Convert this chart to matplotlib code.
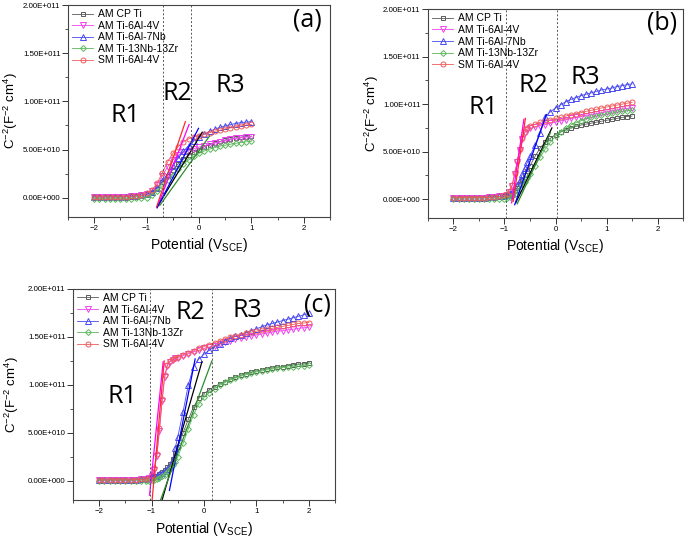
import numpy as np
import matplotlib.pyplot as plt
from matplotlib.ticker import FuncFormatter, MultipleLocator

plt.rcParams['font.family'] = ['Liberation Sans', 'DejaVu Sans']
plt.rcParams['mathtext.default'] = 'regular'

# ---- legend / styles ----
names = ['AM CP Ti', 'AM Ti-6Al-4V', 'AM Ti-6Al-7Nb', 'AM Ti-13Nb-13Zr', 'SM Ti-6Al-4V']

# ---- panel (a) : C^-2 in units of 1e10 ----
xa = [-2.0, -1.9, -1.8, -1.7, -1.6, -1.5, -1.4, -1.3, -1.2, -1.1, -1.0, -0.9, -0.8, -0.7, -0.6,
      -0.5, -0.4, -0.3, -0.2, -0.1, 0.0, 0.1, 0.2, 0.3, 0.4, 0.5, 0.6, 0.7, 0.8, 0.9, 1.0]
a_cp = [0.1, 0.1, 0.1, 0.1, 0.1, 0.1, 0.12, 0.15, 0.2, 0.25,
        0.35, 0.6, 1.0, 1.6, 2.3, 2.9, 3.5, 4.0, 4.4, 4.7, 5.0, 5.3, 5.5, 5.7, 5.85, 6.0, 6.1, 6.2, 6.3, 6.35, 6.4]
a_64 = [0.1, 0.1, 0.1, 0.1, 0.1, 0.1, 0.12, 0.15, 0.2, 0.25,
        0.4, 0.7, 1.3, 2.3, 3.2, 3.9, 4.4, 4.7, 4.9, 5.1, 5.25, 5.4, 5.55, 5.7, 5.8, 5.95, 6.05, 6.15, 6.25, 6.3, 6.35]
a_67 = [0.1, 0.1, 0.1, 0.1, 0.1, 0.1, 0.12, 0.15, 0.2, 0.25,
        0.35, 0.6, 1.0, 1.7, 2.5, 3.3, 4.1, 4.8, 5.4, 5.9, 6.3, 6.6, 6.9, 7.1, 7.3, 7.45, 7.6, 7.7, 7.8, 7.85, 7.9]
a_1313 = [-0.1, -0.1, -0.1, -0.1, -0.1, -0.1, -0.1, -0.1, -0.05, -0.05,
          0.0, 0.3, 0.7, 1.2, 1.8, 2.4, 3.0, 3.5, 3.9, 4.3, 4.6, 4.85, 5.05, 5.2, 5.35, 5.45, 5.55, 5.65, 5.72, 5.8, 5.85]
a_sm = [0.1, 0.1, 0.1, 0.1, 0.1, 0.1, 0.12, 0.15, 0.2, 0.25,
        0.45, 0.8, 1.5, 2.6, 3.7, 4.6, 5.3, 5.8, 6.1, 6.3, 6.45, 6.6, 6.75, 6.9, 7.0, 7.15, 7.25, 7.35, 7.45, 7.55, 7.6]
# linear fits in R2: (x0, x1), (y0, y1)
a_fits = [((-0.78, 0.06), (-0.8, 6.8)),
          ((-0.80, -0.19), (-1.0, 7.6)),
          ((-0.80, -0.01), (-1.05, 7.2)),
          ((-0.75, 0.20), (-0.8, 6.4)),
          ((-0.81, -0.26), (-0.95, 7.9))]
a_bounds = [-0.68, -0.15]

# ---- panel (b) ----
xb = [-2.0, -1.9, -1.8, -1.7, -1.6, -1.5, -1.4, -1.3, -1.2, -1.1, -1.0,
      -0.95, -0.9, -0.85, -0.8, -0.75, -0.7, -0.65, -0.6, -0.55, -0.5,
      -0.4, -0.3, -0.2, -0.1, 0.0, 0.1, 0.2, 0.3, 0.4, 0.5, 0.6, 0.7, 0.8, 0.9, 1.0, 1.1, 1.2, 1.3, 1.4, 1.5]
b_cp = [0.15, 0.15, 0.15, 0.15, 0.15, 0.15, 0.15, 0.18, 0.22, 0.28, 0.35,
        0.4, 0.5, 0.65, 0.9, 1.2, 1.6, 2.0, 2.5, 3.0, 3.5,
        4.5, 5.4, 6.0, 6.4, 6.8, 7.05, 7.3, 7.5, 7.65, 7.8, 7.9, 8.0, 8.1, 8.2, 8.3, 8.4, 8.5, 8.6, 8.7, 8.75]
b_64 = [0.15, 0.15, 0.15, 0.15, 0.15, 0.15, 0.15, 0.18, 0.22, 0.28, 0.35,
        0.45, 0.7, 1.4, 2.6, 3.9, 5.2, 6.3, 7.0, 7.3, 7.45,
        7.6, 7.75, 7.85, 8.0, 8.1, 8.25, 8.35, 8.5, 8.6, 8.7, 8.8, 8.9, 9.0, 9.1, 9.2, 9.3, 9.4, 9.5, 9.55, 9.6]
b_67 = [0.15, 0.15, 0.15, 0.15, 0.15, 0.15, 0.15, 0.18, 0.22, 0.28, 0.35,
        0.4, 0.5, 0.7, 1.0, 1.5, 2.0, 2.6, 3.3, 3.9, 4.5,
        5.7, 7.0, 8.7, 9.2, 9.6, 9.95, 10.25, 10.5, 10.7, 10.9, 11.05, 11.2, 11.35, 11.5, 11.6, 11.7, 11.85, 11.95, 12.05, 12.15]
b_1313 = [0.0, 0.0, 0.0, 0.0, 0.0, 0.0, 0.0, 0.0, 0.0, 0.02, 0.05,
          0.1, 0.2, 0.35, 0.55, 0.8, 1.1, 1.45, 1.8, 2.2, 2.6,
          3.5, 4.4, 5.3, 6.0, 6.6, 7.1, 7.5, 7.8, 8.05, 8.25, 8.45, 8.6, 8.75, 8.85, 8.95, 9.05, 9.15, 9.25, 9.3, 9.35]
b_sm = [0.15, 0.15, 0.15, 0.15, 0.15, 0.15, 0.15, 0.18, 0.22, 0.28, 0.4,
        0.5, 0.8, 1.5, 2.7, 4.0, 5.3, 6.4, 7.1, 7.5, 7.7,
        7.9, 8.1, 8.2, 8.35, 8.5, 8.6, 8.75, 8.9, 9.0, 9.1, 9.25, 9.35, 9.45, 9.6, 9.7, 9.8, 9.9, 10.0, 10.1, 10.2]
b_fits = [((-0.78, -0.07), (-0.4, 7.5)),
          ((-0.86, -0.62), (-0.4, 8.4)),
          ((-0.80, -0.18), (-0.6, 8.9)),
          ((-0.75, -0.10), (-0.5, 7.0)),
          ((-0.83, -0.59), (-0.25, 8.5))]
b_bounds = [-0.97, 0.02]

# ---- panel (c) ----
xc = [-2.0, -1.9, -1.8, -1.7, -1.6, -1.5, -1.4, -1.3, -1.2, -1.1,
      -1.05, -1.0, -0.95, -0.9, -0.85, -0.8, -0.75, -0.7, -0.65, -0.6, -0.55, -0.5,
      -0.4, -0.3, -0.2, -0.1, 0.0, 0.1, 0.2, 0.3, 0.4, 0.5, 0.6, 0.7, 0.8, 0.9, 1.0,
      1.1, 1.2, 1.3, 1.4, 1.5, 1.6, 1.7, 1.8, 1.9, 2.0]
c_cp = [0.1, 0.1, 0.1, 0.1, 0.1, 0.1, 0.1, 0.12, 0.15, 0.2,
        0.3, 0.35, 0.45, 0.55, 0.7, 0.9, 1.1, 1.4, 1.8, 2.3, 2.9, 3.5,
        5.0, 6.4, 7.7, 8.6, 9.1, 9.5, 9.8, 10.1, 10.35, 10.6, 10.8, 11.0, 11.15, 11.3, 11.45,
        11.55, 11.65, 11.75, 11.85, 11.9, 12.0, 12.1, 12.15, 12.2, 12.3]
c_64 = [0.1, 0.1, 0.1, 0.1, 0.1, 0.1, 0.1, 0.12, 0.15, 0.2,
        0.3, 0.5, 1.1, 2.6, 5.2, 8.3, 10.8, 12.0, 12.4, 12.6, 12.75, 12.85,
        13.05, 13.25, 13.45, 13.6, 13.8, 13.95, 14.1, 14.3, 14.45, 14.6, 14.75, 14.9, 15.0, 15.1, 15.2,
        15.3, 15.4, 15.5, 15.6, 15.65, 15.75, 15.8, 15.9, 15.95, 16.0]
c_67 = [0.1, 0.1, 0.1, 0.1, 0.1, 0.1, 0.1, 0.12, 0.15, 0.2,
        0.3, 0.35, 0.45, 0.55, 0.7, 0.85, 1.0, 1.2, 1.5, 2.2, 3.4, 4.6,
        7.2, 10.0, 11.9, 12.7, 13.2, 13.6, 14.0, 14.3, 14.6, 14.85, 15.05, 15.25, 15.45, 15.65, 15.85,
        16.05, 16.25, 16.4, 16.55, 16.7, 16.85, 17.0, 17.15, 17.3, 17.45]
c_1313 = [0.0, 0.0, 0.0, 0.0, 0.0, 0.0, 0.0, 0.0, 0.0, 0.0,
          0.0, 0.05, 0.1, 0.2, 0.3, 0.45, 0.65, 0.9, 1.2, 1.6, 2.0, 2.5,
          3.9, 5.4, 6.9, 8.0, 8.7, 9.2, 9.6, 9.95, 10.25, 10.5, 10.7, 10.9, 11.05, 11.2, 11.35,
          11.45, 11.55, 11.65, 11.75, 11.8, 11.85, 11.9, 11.95, 12.0, 12.05]
c_sm = [0.1, 0.1, 0.1, 0.1, 0.1, 0.1, 0.1, 0.12, 0.15, 0.2,
        0.3, 0.6, 1.3, 2.8, 5.5, 8.5, 11.0, 12.1, 12.5, 12.7, 12.85, 12.95,
        13.15, 13.35, 13.55, 13.8, 14.0, 14.2, 14.4, 14.6, 14.8, 14.95, 15.1, 15.25, 15.4, 15.5, 15.6,
        15.7, 15.8, 15.9, 16.0, 16.1, 16.2, 16.3, 16.4, 16.45, 16.5]
c_fits = [((-0.80, -0.04), (-2.0, 12.4)),
          ((-1.04, -0.78), (-1.5, 12.4)),
          ((-0.66, -0.17), (-1.0, 12.7)),
          ((-0.83, 0.15), (-2.0, 12.5)),
          ((-0.99, -0.76), (-2.0, 12.5))]
c_bounds = [-1.03, 0.15]

colors = ['#5a5a5a', '#f040f0', '#4848f0', '#5cb85c', '#f05a5a']
fit_colors = ['#000000', '#ff00ff', '#0000ff', '#2e8b2e', '#ff2a2a']
markers = ['s', 'v', '^', 'D', 'o']
msizes = [3.4, 3.8, 3.8, 3.0, 3.6]


def sci(v, pos):
    if abs(v) < 1:
        return '0.00E+000'
    e = int(np.floor(np.log10(abs(v)) + 1e-9))
    return f'{v / 10**e:.2f}E+{e:03d}'


fig = plt.figure(figsize=(6.85, 5.39), dpi=100)
ax_a = fig.add_axes([0.0993, 0.5974, 0.3825, 0.3933])
ax_b = fig.add_axes([0.6248, 0.5955, 0.3723, 0.3872])
ax_c = fig.add_axes([0.1066, 0.0724, 0.3825, 0.3915])

panels = [
    (ax_a, xa, [a_cp, a_64, a_67, a_1313, a_sm], a_fits, a_bounds, '(a)',
     [(-1.4, 0.85e11), (-0.41, 1.08e11), (0.6, 1.16e11)], (2.07, 1.84e11), -0.183, -0.09),
    (ax_b, xb, [b_cp, b_64, b_67, b_1313, b_sm], b_fits, b_bounds, '(b)',
     [(-1.41, 0.96e11), (-0.44, 1.2e11), (0.58, 1.28e11)], (2.08, 1.86e11), -0.186, -0.09),
    (ax_c, xc, [c_cp, c_64, c_67, c_1313, c_sm], c_fits, c_bounds, '(c)',
     [(-1.56, 0.88e11), (-0.26, 1.75e11), (0.83, 1.78e11)], (2.17, 1.83e11), -0.20, -0.095),
]

for ax, x, series, fits, bounds, tag, rpos, tagpos, ylab_x, xlab_y in panels:
    for y, c, m, ms, name in zip(series, colors, markers, msizes, names):
        ax.plot(x, np.array(y) * 1e10, color=c, lw=0.6, marker=m, ms=ms,
                mfc='none', mec=c, mew=0.7, label=name)
    for (fx, fy), fc in zip(fits, fit_colors):
        ax.plot(fx, np.array(fy) * 1e10, color=fc, lw=0.9)
    for b in bounds:
        ax.axvline(b, color='#555555', lw=0.7, ls=(0, (2, 2)))

    for lab, (tx, ty) in zip(['R1', 'R2', 'R3'], rpos):
        ax.text(tx, ty, lab, fontsize=18, family='Open Sans', ha='center', va='center')
    ax.text(tagpos[0], tagpos[1], tag, fontsize=18, family='Open Sans', ha='center', va='center')

    ax.set_xlim(-2.5, 2.5)
    ax.set_ylim(-2.0e10, 2.0e11)
    ax.xaxis.set_major_locator(MultipleLocator(1))
    ax.xaxis.set_minor_locator(MultipleLocator(0.5))
    ax.yaxis.set_major_locator(MultipleLocator(5e10))
    ax.yaxis.set_minor_locator(MultipleLocator(2.5e10))
    ax.yaxis.set_major_formatter(FuncFormatter(sci))
    ax.tick_params(which='major', direction='out', length=4, width=0.7, labelsize=5.7,
                   color='#333333', pad=1.5)
    ax.tick_params(which='minor', direction='out', length=2.5, width=0.6, color='#333333')
    for s in ax.spines.values():
        s.set_linewidth(0.8)
        s.set_color('#444444')

    ax.set_xlabel('Potential (V$_{SCE}$)', fontsize=10)
    ax.xaxis.set_label_coords(0.5, xlab_y)
    ax.set_ylabel('C$^{-2}$(F$^{-2}$ cm$^{4}$)', fontsize=9.5)
    ax.yaxis.set_label_coords(ylab_x, 0.5)

    ax.legend(loc='upper left', frameon=False, fontsize=7.5, handlelength=2.0,
              handletextpad=0.5, labelspacing=0.15, borderaxespad=0.2, borderpad=0.2)

fig.savefig('out.png', dpi=100)
